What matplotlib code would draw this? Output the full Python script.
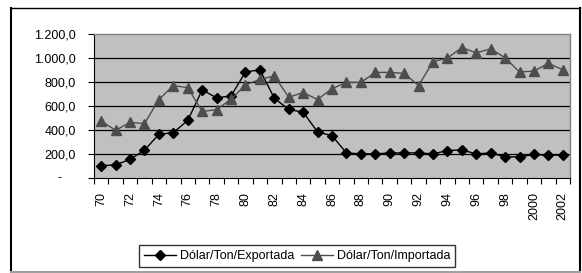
import matplotlib
matplotlib.use("Agg")
import matplotlib.pyplot as plt
from matplotlib.ticker import FuncFormatter, FixedLocator
from matplotlib.lines import Line2D

years = [str(y) for y in range(70, 100)] + ["2000", "2001", "2002"]
exportada = [102, 110, 155, 232, 364, 378, 480, 734, 668, 684, 883, 902, 665, 571,
             549, 383, 353, 209, 201, 201, 209, 209, 209, 201, 229, 234, 201, 209,
             176, 176, 196, 188, 193]
importada = [474, 397, 464, 453, 654, 770, 753, 555, 569, 657, 776, 822, 850, 673,
             712, 654, 745, 797, 797, 880, 880, 872, 770, 969, 999, 1087, 1043, 1076,
             1002, 883, 891, 955, 902]
label_exp = "Dólar/Ton/Exportada"
label_imp = "Dólar/Ton/Importada"

plt.rcParams['font.family'] = ['Liberation Sans', 'DejaVu Sans']
FS = 9

W, H = 582, 273
fig = plt.figure(figsize=(W / 100, H / 100), dpi=100)

# outer frame
fig.add_artist(Line2D([11 / W, 11 / W], [1 - 8 / H, 1 - 271.5 / H], color='black', lw=1.5))
fig.add_artist(Line2D([11 / W, 580 / W], [1 - 8 / H, 1 - 8 / H], color='black', lw=1.0))
fig.add_artist(Line2D([580 / W, 580 / W], [1 - 8 / H, 1 - 271.5 / H], color='black', lw=1.5))
fig.add_artist(Line2D([11 / W, 580 / W], [1 - 271.5 / H, 1 - 271.5 / H], color='#a0a0a0', lw=1.5))

left, right, top, bottom = 94, 570, 34, 178
ax = fig.add_axes([left / W, 1 - bottom / H, (right - left) / W, (bottom - top) / H])
ax.set_facecolor('#c0c0c0')

x = list(range(len(years)))
ax.plot(x, exportada, color='black', lw=1.0, marker='D', ms=5,
        markerfacecolor='black', markeredgecolor='black', label=label_exp, zorder=3)
ax.plot(x, importada, color='#4d4d4d', lw=1.0, marker='^', ms=6.5,
        markerfacecolor='#4d4d4d', markeredgecolor='#4d4d4d', label=label_imp, zorder=3)

ax.set_xlim(-0.5, len(years) - 0.5)
ax.set_ylim(0, 1200)
yt = [0, 200, 400, 600, 800, 1000, 1200]
ax.set_yticks(yt)

def fmt(v, pos):
    if v == 0:
        return ""
    s = f"{v:,.1f}"
    return s.replace(",", "X").replace(".", ",").replace("X", ".")

ax.yaxis.set_major_formatter(FuncFormatter(fmt))
ax.text((60 - left) / (right - left), 0, "-", transform=ax.get_yaxis_transform(),
        ha='center', va='center', fontsize=FS)
for v in yt[1:-1]:
    ax.axhline(v, color='black', lw=0.9, zorder=1)

ax.set_xticks(x[::2])
ax.set_xticklabels(years[::2], rotation=90)
ax.xaxis.set_minor_locator(FixedLocator([i - 0.5 for i in range(len(years) + 1)]))
ax.tick_params(axis='x', which='major', length=0, pad=10, labelsize=FS)
ax.tick_params(axis='x', which='minor', length=4, width=0.8, direction='out', color='black')
ax.tick_params(axis='y', length=4, width=0.8, direction='out', labelsize=FS, pad=9)

for s in ['top', 'right']:
    ax.spines[s].set_color('#808080')
    ax.spines[s].set_linewidth(1.0)
ax.spines['left'].set_color('black')
ax.spines['bottom'].set_color('black')
ax.spines['left'].set_linewidth(0.8)
ax.spines['bottom'].set_linewidth(0.8)

leg = fig.legend(loc='center', bbox_to_anchor=(297 / W, 1 - 256 / H), ncol=2,
                 frameon=True, fancybox=False, edgecolor='black', fontsize=FS,
                 handlelength=2.6, columnspacing=0.5, handletextpad=0.3,
                 borderpad=0.4, borderaxespad=0)
leg.get_frame().set_linewidth(1.0)

fig.savefig("out.png", dpi=100)
